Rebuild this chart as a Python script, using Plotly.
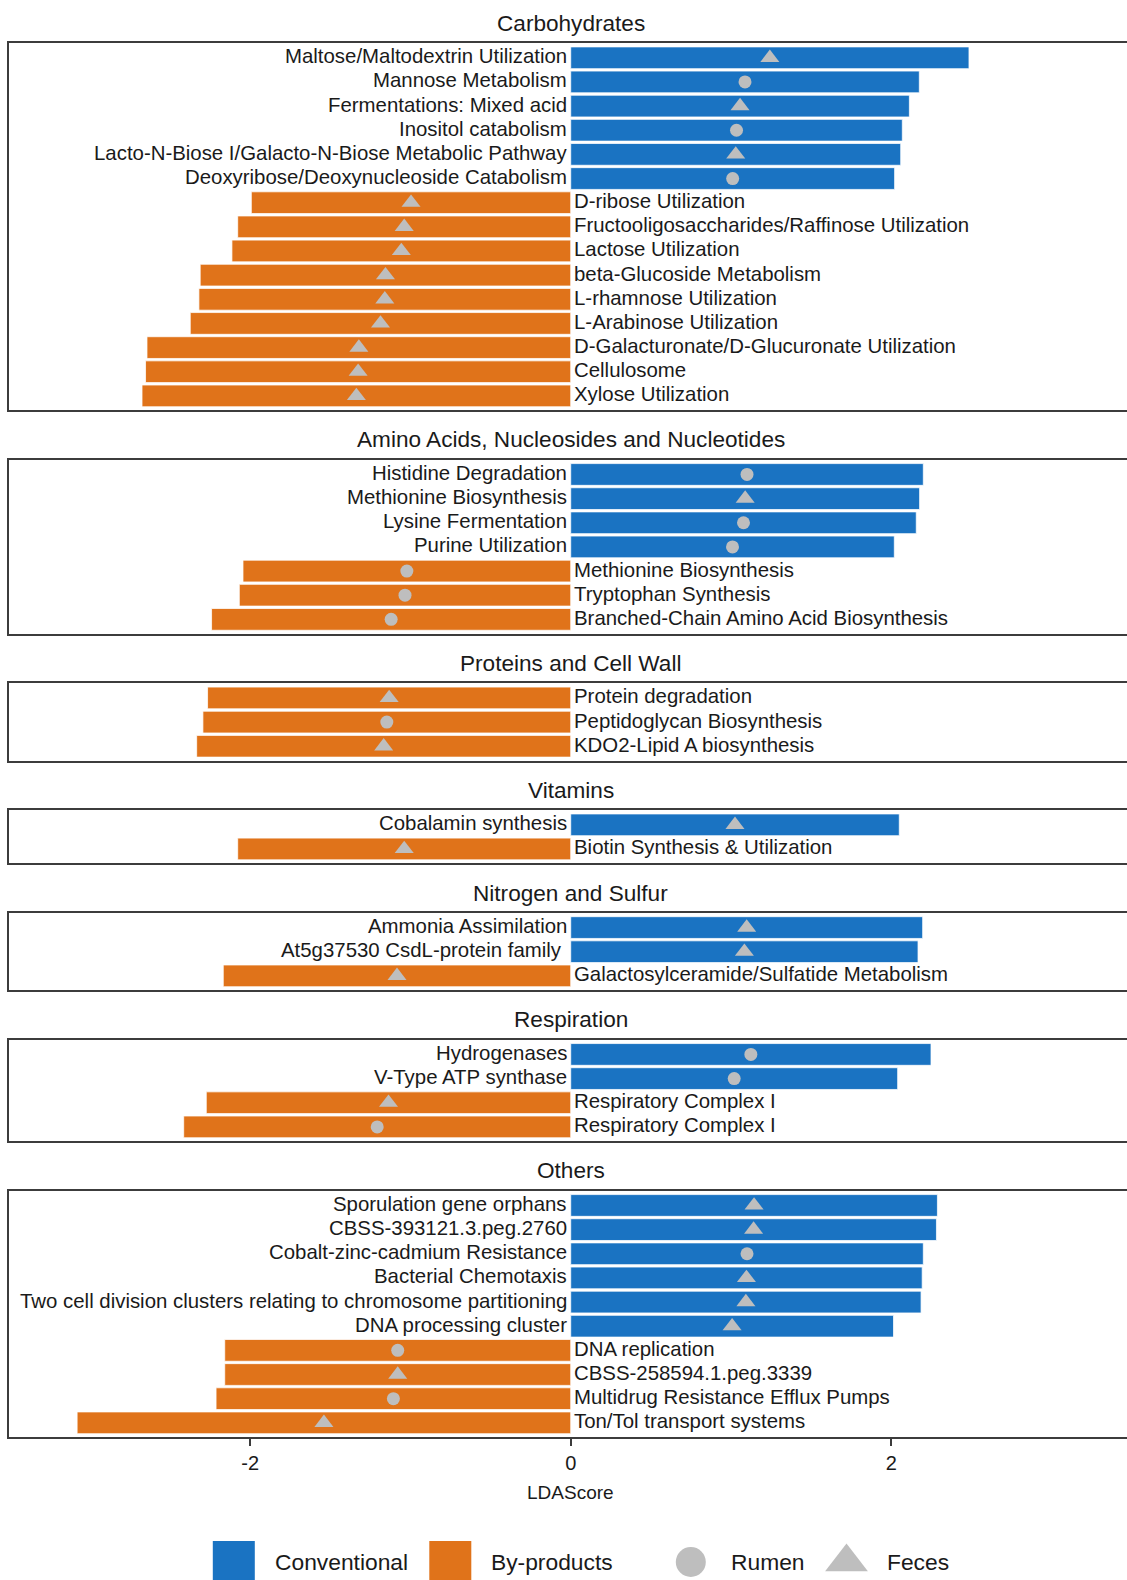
import plotly.graph_objects as go

# ---------------------------------------------------------------------------
# Data: LDA scores of functional pathways, grouped by category.
# Positive scores = Conventional diet, negative scores = By-products diet.
# Site tells where the feature was found (Rumen / Feces).
# ---------------------------------------------------------------------------
panel_titles = [
    "Carbohydrates",
    "Amino Acids, Nucleosides and Nucleotides",
    "Proteins and Cell Wall",
    "Vitamins",
    "Nitrogen and Sulfur",
    "Respiration",
    "Others",
]

carb_labels = [
    "Maltose/Maltodextrin Utilization",
    "Mannose Metabolism",
    "Fermentations: Mixed acid",
    "Inositol catabolism",
    "Lacto-N-Biose I/Galacto-N-Biose Metabolic Pathway",
    "Deoxyribose/Deoxynucleoside Catabolism",
    "D-ribose Utilization",
    "Fructooligosaccharides/Raffinose Utilization",
    "Lactose Utilization",
    "beta-Glucoside Metabolism",
    "L-rhamnose Utilization",
    "L-Arabinose Utilization",
    "D-Galacturonate/D-Glucuronate Utilization",
    "Cellulosome",
    "Xylose Utilization",
]
carb_scores = [2.485, 2.175, 2.113, 2.069, 2.059, 2.021,
               -1.993, -2.078, -2.114, -2.312, -2.320, -2.374, -2.644, -2.653, -2.675]
carb_sites = ["Feces", "Rumen", "Feces", "Rumen", "Feces", "Rumen",
              "Feces", "Feces", "Feces", "Feces", "Feces", "Feces", "Feces", "Feces", "Feces"]

amino_labels = [
    "Histidine Degradation",
    "Methionine Biosynthesis",
    "Lysine Fermentation",
    "Purine Utilization",
    "Methionine Biosynthesis",
    "Tryptophan Synthesis",
    "Branched-Chain Amino Acid Biosynthesis",
]
amino_scores = [2.200, 2.177, 2.156, 2.019, -2.045, -2.068, -2.241]
amino_sites = ["Rumen", "Feces", "Rumen", "Rumen", "Rumen", "Rumen", "Rumen"]

protein_labels = [
    "Protein degradation",
    "Peptidoglycan Biosynthesis",
    "KDO2-Lipid A biosynthesis",
]
protein_scores = [-2.266, -2.295, -2.334]
protein_sites = ["Feces", "Rumen", "Feces"]

vitamin_labels = ["Cobalamin synthesis", "Biotin Synthesis & Utilization"]
vitamin_scores = [2.050, -2.078]
vitamin_sites = ["Feces", "Feces"]

nitrogen_labels = [
    "Ammonia Assimilation",
    "At5g37530 CsdL-protein family\u00a0",
    "Galactosylceramide/Sulfatide Metabolism",
]
nitrogen_scores = [2.196, 2.167, -2.168]
nitrogen_sites = ["Feces", "Feces", "Feces"]

resp_labels = [
    "Hydrogenases",
    "V-Type ATP synthase",
    "Respiratory Complex I",
    "Respiratory Complex I",
]
resp_scores = [2.248, 2.040, -2.274, -2.415]
resp_sites = ["Rumen", "Rumen", "Feces", "Rumen"]

other_labels = [
    "Sporulation gene orphans",
    "CBSS-393121.3.peg.2760",
    "Cobalt-zinc-cadmium Resistance",
    "Bacterial Chemotaxis",
    "Two cell division clusters relating to chromosome partitioning",
    "DNA processing cluster",
    "DNA replication",
    "CBSS-258594.1.peg.3339",
    "Multidrug Resistance Efflux Pumps",
    "Ton/Tol transport systems",
]
other_scores = [2.288, 2.282, 2.200, 2.193, 2.186, 2.014, -2.159, -2.159, -2.213, -3.080]
other_sites = ["Feces", "Feces", "Rumen", "Feces", "Feces", "Feces",
               "Rumen", "Feces", "Rumen", "Feces"]

panel_data = [
    (carb_labels, carb_scores, carb_sites),
    (amino_labels, amino_scores, amino_sites),
    (protein_labels, protein_scores, protein_sites),
    (vitamin_labels, vitamin_scores, vitamin_sites),
    (nitrogen_labels, nitrogen_scores, nitrogen_sites),
    (resp_labels, resp_scores, resp_sites),
    (other_labels, other_scores, other_sites),
]

x_tick_values = [-2, 0, 2]
x_tick_labels = ["-2", "0", "2"]
x_title = "LDAScore"

diet_names = ["Conventional", "By-products"]
site_names = ["Rumen", "Feces"]

# ---------------------------------------------------------------------------
# Styling / layout constants
# ---------------------------------------------------------------------------
W, H = 1127, 1580
FONT = "Liberation Sans, Arial, Helvetica, sans-serif"
BLUE = "#1A73C2"
ORANGE = "#E0731A"
GREY = "#BEBEBE"
LINE = "#3C3C3C"
TXT = "#1A1A1A"

PLOT_LEFT = 9
PANEL_TOP = 43.3
ROW_H = 24.15
PANEL_GAP = 49.6
X_RANGE = [-3.505, 3.471]
LABEL_SIZE = 20.4
STRIP_SIZE = 22.6

SITE_SYMBOL = {"Rumen": ("circle", 13), "Feces": ("triangle-up", 16.5)}


def paper_y(px):
    return 1 - px / H


fig = go.Figure()
annotations = []
axes = {}

top = PANEL_TOP
n_panels = len(panel_data)
for k, (labels, scores, sites) in enumerate(panel_data, start=1):
    n = len(labels)
    bottom = top + (n + 0.2) * ROW_H
    xa, ya = ("x", "y") if k == 1 else (f"x{k}", f"y{k}")
    xkey, ykey = ("xaxis", "yaxis") if k == 1 else (f"xaxis{k}", f"yaxis{k}")
    last = k == n_panels
    rows = list(range(n))

    colors = [BLUE if s > 0 else ORANGE for s in scores]
    fig.add_trace(go.Bar(
        x=scores, y=rows, orientation="h", width=0.9, base=0,
        marker=dict(color=colors, line=dict(color="rgba(255,255,255,0.75)", width=1)),
        xaxis=xa, yaxis=ya, showlegend=False, hoverinfo="skip",
    ))

    # points sit at the middle of each bar
    for site in site_names:
        sym, size = SITE_SYMBOL[site]
        idx = [i for i in rows if sites[i] == site]
        if not idx:
            continue
        fig.add_trace(go.Scatter(
            x=[scores[i] / 2 for i in idx], y=idx, mode="markers",
            marker=dict(symbol=sym, size=size, color=GREY, line=dict(width=0)),
            xaxis=xa, yaxis=ya, showlegend=False, hoverinfo="skip",
        ))

    # pathway names next to the zero line, on the side opposite the bar
    for i, (lab, s) in enumerate(zip(labels, scores)):
        annotations.append(dict(
            x=0, y=i, xref=xa, yref=ya, text=lab, showarrow=False,
            xanchor="right" if s > 0 else "left", yanchor="middle",
            xshift=-1.5 if s > 0 else 1.5, yshift=1.5,
            font=dict(family=FONT, size=LABEL_SIZE, color=TXT),
        ))

    # panel strip title
    annotations.append(dict(
        x=0, y=paper_y(top - 20), xref=xa, yref="paper", text=panel_titles[k - 1],
        showarrow=False, xanchor="center", yanchor="middle",
        font=dict(family=FONT, size=STRIP_SIZE, color=TXT),
    ))

    axes[xkey] = dict(
        domain=[0, 1], range=X_RANGE, anchor=ya,
        showline=True, mirror=True, linecolor=LINE, linewidth=1.6,
        showgrid=False, zeroline=False,
        tickmode="array", tickvals=x_tick_values, ticktext=x_tick_labels,
        ticks="outside" if last else "", ticklen=7, tickwidth=1.6, tickcolor=LINE,
        showticklabels=last,
        tickfont=dict(family=FONT, size=20, color=TXT),
        fixedrange=True,
    )
    axes[ykey] = dict(
        domain=[paper_y(bottom), paper_y(top)], range=[n - 0.4, -0.6], anchor=xa,
        showline=True, mirror=False, linecolor=LINE, linewidth=1.6,
        showgrid=False, zeroline=False, ticks="", showticklabels=False,
        fixedrange=True,
    )

    if last:
        annotations.append(dict(
            x=0, y=paper_y(bottom + 55), xref=xa, yref="paper", text=x_title,
            showarrow=False, xanchor="center", yanchor="middle",
            font=dict(family=FONT, size=19, color=TXT),
        ))
    top = bottom + PANEL_GAP

# ---------------------------------------------------------------------------
# Custom legend row along the bottom, on its own pixel-scaled axis
# ---------------------------------------------------------------------------
LEG_Y = 1562
legend_keys = [
    # (label, key center x, text start x, symbol, size, color)
    (diet_names[0], 233.8, 275, "square", 42, BLUE),
    (diet_names[1], 450.3, 491, "square", 42, ORANGE),
    (site_names[0], 690.8, 730.5, "circle", 30, GREY),
    (site_names[1], 846.5, 887, "triangle-up", 37, GREY),
]
for lab, kx, tx, sym, size, col in legend_keys:
    fig.add_trace(go.Scatter(
        x=[kx], y=[LEG_Y], mode="markers",
        marker=dict(symbol=sym, size=size, color=col, line=dict(width=0)),
        xaxis="x8", yaxis="y8", showlegend=False, hoverinfo="skip", cliponaxis=False,
    ))
    annotations.append(dict(
        x=tx - 2, y=LEG_Y, xref="x8", yref="y8", text=lab, showarrow=False,
        xanchor="left", yanchor="middle",
        font=dict(family=FONT, size=22.8, color=TXT),
    ))

axes["xaxis8"] = dict(domain=[0, 1], range=[PLOT_LEFT, W], anchor="y8", visible=False,
                      fixedrange=True)
axes["yaxis8"] = dict(domain=[0, paper_y(1526)], range=[H, 1526], anchor="x8", visible=False,
                      fixedrange=True)

fig.update_layout(
    width=W, height=H, autosize=False,
    margin=dict(l=PLOT_LEFT, r=0, t=0, b=0, pad=0),
    paper_bgcolor="white", plot_bgcolor="white",
    showlegend=False, barmode="overlay",
    annotations=annotations,
    font=dict(family=FONT, color=TXT),
    **axes,
)

fig.write_html("out.html")
